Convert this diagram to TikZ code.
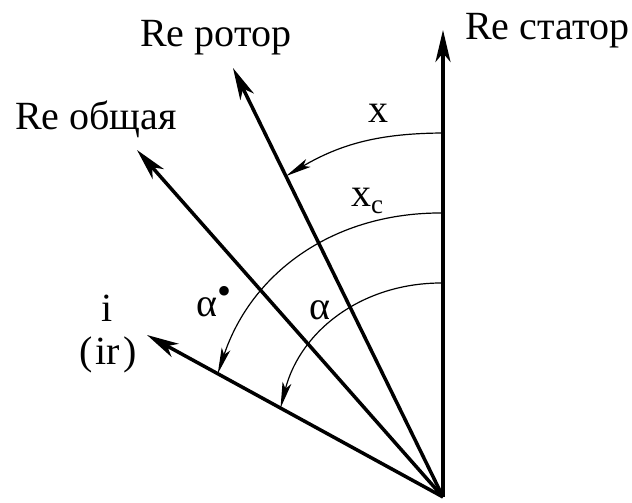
\documentclass[tikz,border=0pt]{standalone}
\usepackage{fontspec}
\setmainfont{Liberation Serif}
\usetikzlibrary{arrows.meta,calc}

\begin{document}
\begin{tikzpicture}[x=1pt,y=1pt,
  vec/.style={line width=3.5pt,-{Stealth[length=32pt,width=15pt,inset=9pt]}},
  angarc/.style={line width=1.2pt,-{Stealth[length=26pt,width=9pt,inset=6pt]}},
  lbl/.style={font=\fontsize{40}{42}\selectfont,inner sep=0pt}]

  \useasboundingbox (0,0) rectangle (632,503);

  %% ---- Axes from the common origin ----
  \coordinate (O) at (443,6);
  \coordinate (stator) at (443,473);
  \coordinate (rotor) at (233,435);
  \coordinate (common) at (137,353);
  \coordinate (cur) at (147,168);

  \draw[vec] (O) -- (stator);
  \draw[vec] (O) -- (rotor);
  \draw[vec] (O) -- (common);
  \draw[vec] (O) -- (cur);

  \node[lbl,anchor=base west] (lstator) at (465,463) {Re статор};
  \node[lbl,anchor=base west] (lrotor) at (140,456) {Re ротор};
  \node[lbl,anchor=base west] (lcommon) at (15,373) {Re общая};
  \node[lbl,anchor=base] (li) at (107,181) {i};
  \node[lbl,anchor=base] (lir) at (108,138) {(\kern3pt ir\kern3pt)};

  %% ---- Angle arcs ----
  % start points on the stator axis
  \coordinate (xs) at (443,370);
  \coordinate (xcs) at (443,290);
  \coordinate (as) at (443,220);
  % end points on the rotor and current vectors
  \coordinate (xe) at ($(O)!0.748!(rotor)$);
  \coordinate (xce) at ($(O)!0.761!(cur)$);
  \coordinate (ae) at ($(O)!0.549!(cur)$);

  \draw[angarc] (xs) to[bend right=15] (xe);
  \draw[angarc] (xcs) to[bend right=36] (xce);
  \draw[angarc] (as) to[bend right=38] (ae);

  \node[lbl,anchor=base] (lx) at (378,380) {x};
  \node[lbl,anchor=base west] (lxc) at (351,296) {x\raisebox{-7pt}{\fontsize{27}{28}\selectfont c}};
  \node[lbl,anchor=base] (lalphadot) at (214,186) {α\raisebox{12pt}{•}};
  \node[lbl,anchor=base] (lalpha) at (320,183) {α};

\end{tikzpicture}
\end{document}
